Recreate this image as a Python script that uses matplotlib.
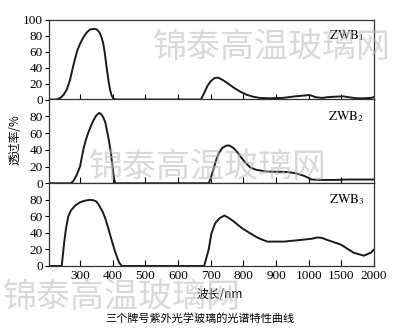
import numpy as np
import matplotlib
matplotlib.use("Agg")
import matplotlib.pyplot as plt

plt.rcParams['font.family'] = ['Liberation Serif', 'Noto Sans CJK SC']
plt.rcParams['mathtext.fontset'] = 'stix'

# wavelength ticks (axis is evenly spaced per tick, not linear)
tick_wl = [200, 300, 400, 500, 600, 700, 800, 900, 1000, 1500, 2000]
tick_labels = ["300", "400", "500", "600", "700", "800", "900", "1000", "1500", "2000"]
y_ticks_top = [0, 20, 40, 60, 80, 100]
y_ticks = [0, 20, 40, 60, 80]

# ZWB1
wl1 = [206, 228, 240, 250, 260, 269, 278, 286, 292, 300, 310, 320, 330, 344, 352, 360, 366,
       371, 376, 380, 384, 387, 392, 397, 402, 407, 670, 680, 690, 700, 712, 723, 735, 750,
       770, 790, 810, 830, 850, 880, 920, 960, 1000, 1040, 1100, 1200, 1300, 1400, 1530,
       1600, 1735, 1850, 1950, 2000]
t1 = [0, 0, 2, 6, 13, 24, 40, 53, 62, 70, 78, 84, 88, 89, 88, 84, 78,
      71, 58, 45, 33, 24, 12, 5, 1.5, 0, 0, 8, 17, 23, 27, 27.5, 25, 21,
      15, 10, 6, 3.5, 2, 1.5, 2, 4, 5.5, 5, 3, 2, 3, 3.5, 4, 3, 1.5, 1.5, 2, 3]

# ZWB2
wl2 = [206, 272, 280, 290, 300, 310, 318, 325, 333, 341, 350, 359, 366, 372, 378, 383, 388,
       394, 398, 402, 405, 408, 694, 700, 708, 716, 725, 735, 748, 758, 770, 782, 795, 808,
       821, 840, 873, 934, 960, 985, 1010, 1040, 1200, 1400, 1600, 2000]
t2 = [0, 0, 3, 10, 20, 40, 52, 60, 68, 75, 81, 84, 82, 78, 72, 62, 52,
      38, 25, 12, 4, 0, 0, 6, 16, 27, 36, 42, 45, 45, 42, 37, 30, 24,
      19, 16, 14, 13.5, 12, 9, 6, 4.5, 4, 4, 4.5, 4.5]

# ZWB3
wl3 = [206, 244, 248, 252, 257, 264, 272, 285, 300, 315, 330, 341, 350, 356, 363, 370, 377,
       384, 392, 400, 407, 414, 420, 428, 680, 687, 694, 702, 714, 728, 742, 756, 770, 795,
       821, 845, 873, 924, 975, 1050, 1130, 1200, 1285, 1490, 1690, 1845, 1950, 2000]
t3 = [0, 0, 15, 30, 45, 60, 67, 73, 77, 79, 80, 79.5, 78, 75, 70, 65, 58,
      49, 38, 27, 18, 10, 4, 0, 0, 10, 20, 39, 52, 58, 61, 58, 54, 46,
      39.5, 34, 29.5, 29.5, 31.5, 33, 34.5, 34, 31.5, 26, 16, 12.5, 16, 20]

pos = np.arange(len(tick_wl), dtype=float)


def fwd(x):
    return np.interp(x, tick_wl, pos, left=-1, right=11)


def inv(p):
    return np.interp(p, pos, tick_wl)


W, H = 400, 328
fig = plt.figure(figsize=(W / 100, H / 100), dpi=100)
fig.patch.set_facecolor('white')

left, right = 49.3, 374
panels = [(20, 99.5, wl1, t1, "ZWB$_1$", y_ticks_top),
          (99.5, 183.3, wl2, t2, "ZWB$_2$", y_ticks),
          (183.3, 266, wl3, t3, "ZWB$_3$", y_ticks)]

for k, (top, bot, wl, t, name, yt) in enumerate(panels):
    ax = fig.add_axes([left / W, 1 - bot / H, (right - left) / W, (bot - top) / H])
    ax.set_xscale('function', functions=(fwd, inv))
    ax.plot(wl, t, color='#1a1a1a', lw=1.4, solid_capstyle='round')
    ax.set_xlim(206, 2000)
    ax.set_ylim(0, 100)
    ax.set_yticks(yt)
    ax.set_xticks(tick_wl[1:-1])
    ax.tick_params(axis='x', direction='in', length=4, width=0.8, top=False)
    ax.tick_params(axis='y', direction='out', length=3, width=0.8, labelsize=9.5, pad=1.5)
    if k < 2:
        ax.set_xticklabels([])
    else:
        ax.set_xticks(tick_wl[1:])
        ax.set_xticklabels(tick_labels, fontsize=9.5)
        ax.tick_params(axis='x', pad=3)
    for s in ax.spines.values():
        s.set_linewidth(0.9)
        s.set_color('#333333')
    ax.text(0.915, 0.80, name, transform=ax.transAxes, fontsize=9.5,
            ha='center', va='center', family=['STIXGeneral', 'Liberation Serif'])

fig.text(15 / W, 1 - 140 / H, "透过率/%", rotation=90, ha='center', va='center',
         fontsize=8.5, family=['Noto Sans CJK SC'])
fig.text(220 / W, 1 - 295 / H, "波长/nm", ha='center', va='center',
         fontsize=8.5, family=['Noto Sans CJK SC', 'Liberation Serif'])
fig.text(200 / W, 1 - 318 / H, "三个牌号紫外光学玻璃的光谱特性曲线", ha='center', va='center',
         fontsize=8, family=['Noto Sans CJK SC'])

# watermarks
for x, y in [(272, 47), (208, 168), (122, 297)]:
    fig.text(x / W, 1 - y / H, "锦泰高温玻璃网", ha='center', va='center', fontsize=24.5,
             color='#bbbbbb', alpha=0.55, family=['Noto Sans CJK SC'])

fig.savefig("out.png", dpi=100)
